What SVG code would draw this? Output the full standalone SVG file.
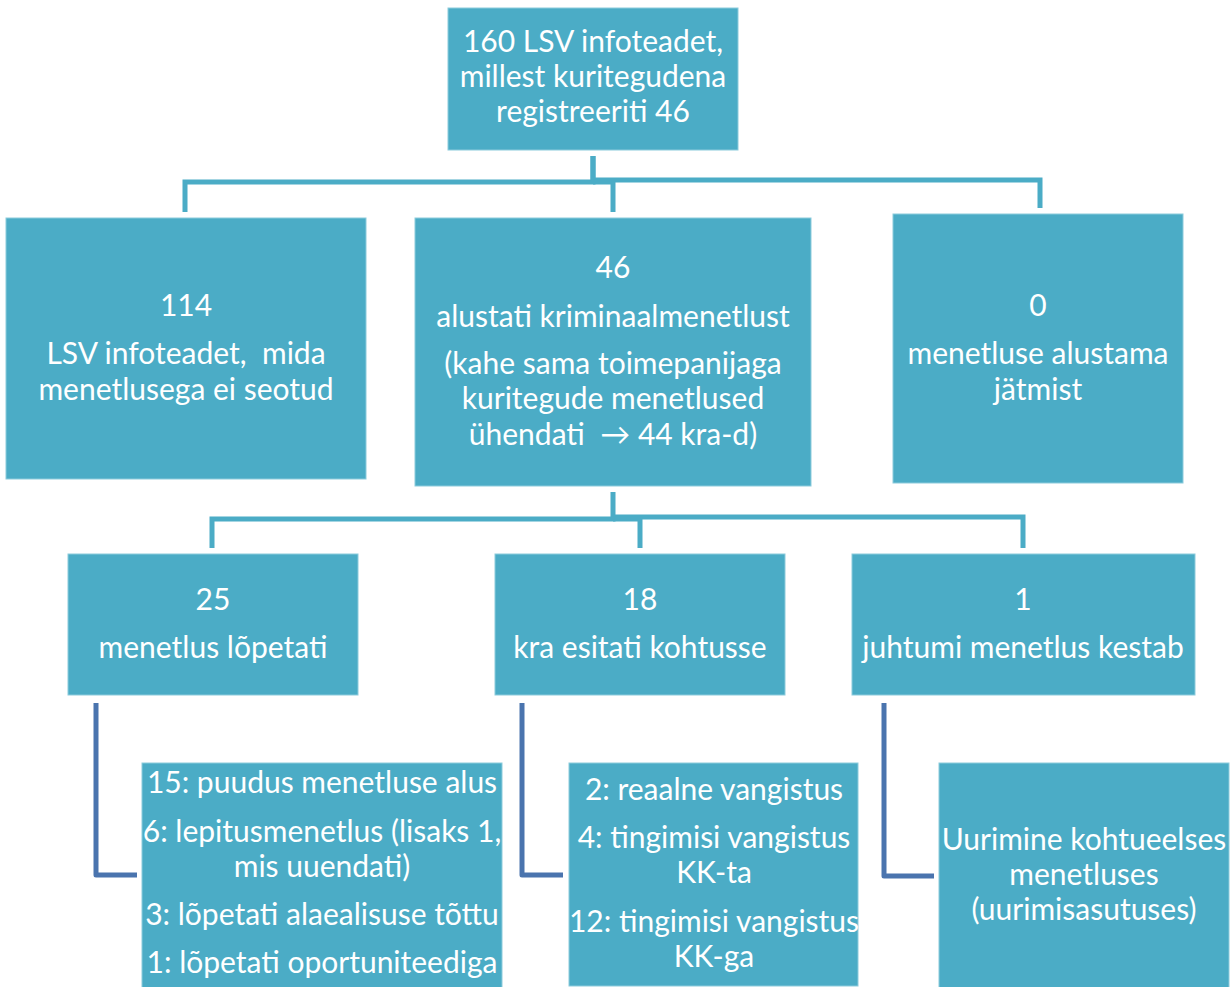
<svg xmlns="http://www.w3.org/2000/svg" width="1231" height="987" viewBox="0 0 1231 987">
<style>
.box{fill:#4BACC6;stroke:#8ccbdc;stroke-width:1}
.t{font-family:Lato,"Open Sans","Liberation Sans",sans-serif;font-size:30px;fill:#ffffff;text-anchor:middle;white-space:pre}
.c1{fill:none;stroke:#4BACC6;stroke-width:5}
.c2{fill:none;stroke:#4A74AE;stroke-width:5;stroke-linejoin:round}
</style>
<rect width="1231" height="987" fill="#ffffff"/>
<g id="connectors">
<polyline class="c1" points="593,156 593,182 185,182 185,212"/>
<polyline class="c1" points="593,156 593,180 1040,180 1040,208"/>
<polyline class="c1" points="593,182 613,182 613,212"/>
<polyline class="c1" points="613,492 613,519 212,519 212,548"/>
<polyline class="c1" points="613,517 1023,517 1023,548"/>
<polyline class="c1" points="613,519 640,519 640,548"/>
<polyline class="c2" points="96,703 96,875 137,875"/>
<polyline class="c2" points="522,703 522,875 563,875"/>
<polyline class="c2" points="884,703 884,876 934,876"/>
</g>
<g id="n-top">
<rect class="box" x="448" y="8" width="290" height="142"/>
<text class="t" x="593" y="52">160 LSV infoteadet,</text>
<text class="t" x="593" y="87">millest kuritegudena</text>
<text class="t" x="593" y="122">registreeriti 46</text>
</g>
<g id="n-114">
<rect class="box" x="6" y="218" width="360" height="261"/>
<text class="t" x="186" y="316">114</text>
<text class="t" x="186" y="364" xml:space="preserve">LSV infoteadet,  mida</text>
<text class="t" x="186" y="400">menetlusega ei seotud</text>
</g>
<g id="n-46">
<rect class="box" x="415" y="218" width="396" height="268"/>
<text class="t" x="613" y="278">46</text>
<text class="t" x="613" y="327">alustati kriminaalmenetlust</text>
<text class="t" x="613" y="374">(kahe sama toimepanijaga</text>
<text class="t" x="613" y="409">kuritegude menetlused</text>
<text class="t" x="613" y="445" xml:space="preserve">ühendati  → 44 kra-d)</text>
</g>
<g id="n-0">
<rect class="box" x="893" y="214" width="290" height="269"/>
<text class="t" x="1038" y="316">0</text>
<text class="t" x="1038" y="364">menetluse alustama</text>
<text class="t" x="1038" y="400">jätmist</text>
</g>
<g id="n-25">
<rect class="box" x="68" y="554" width="290" height="141"/>
<text class="t" x="213" y="610">25</text>
<text class="t" x="213" y="658">menetlus lõpetati</text>
</g>
<g id="n-18">
<rect class="box" x="495" y="554" width="290" height="141"/>
<text class="t" x="640" y="610">18</text>
<text class="t" x="640" y="658">kra esitati kohtusse</text>
</g>
<g id="n-1">
<rect class="box" x="852" y="554" width="343" height="141"/>
<text class="t" x="1023" y="610">1</text>
<text class="t" x="1023" y="658">juhtumi menetlus kestab</text>
</g>
<g id="n-lopetati">
<rect class="box" x="142" y="763" width="360" height="230"/>
<text class="t" x="322" y="793">15: puudus menetluse alus</text>
<text class="t" x="322" y="842">6: lepitusmenetlus (lisaks 1,</text>
<text class="t" x="322" y="877">mis uuendati)</text>
<text class="t" x="322" y="925">3: lõpetati alaealisuse tõttu</text>
<text class="t" x="322" y="973">1: lõpetati oportuniteediga</text>
</g>
<g id="n-kohus">
<rect class="box" x="569" y="763" width="289" height="223"/>
<text class="t" x="714" y="800">2: reaalne vangistus</text>
<text class="t" x="714" y="848">4: tingimisi vangistus</text>
<text class="t" x="714" y="883">KK-ta</text>
<text class="t" x="714" y="932">12: tingimisi vangistus</text>
<text class="t" x="714" y="967">KK-ga</text>
</g>
<g id="n-kestab">
<rect class="box" x="939" y="763" width="290" height="230"/>
<text class="t" x="1084" y="850">Uurimine kohtueelses</text>
<text class="t" x="1084" y="885">menetluses</text>
<text class="t" x="1084" y="920">(uurimisasutuses)</text>
</g>
</svg>
